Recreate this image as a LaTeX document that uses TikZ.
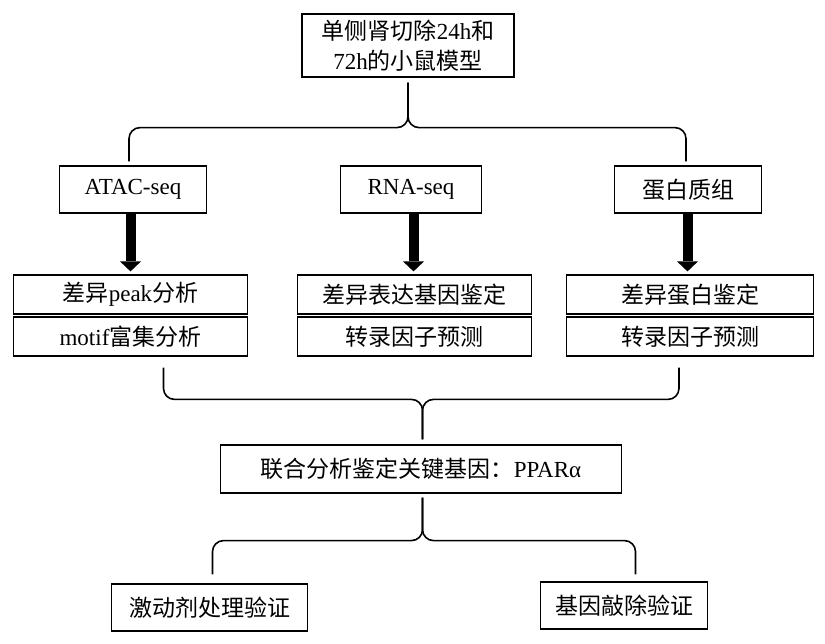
\documentclass[tikz,border=0pt]{standalone}
\usepackage{fontspec}
\setmainfont{Liberation Serif}
\newfontfamily\cjk{Noto Sans CJK SC}
\usetikzlibrary{arrows.meta}

\tikzset{
  box/.style={draw, line width=1.2pt, inner sep=0pt, minimum height=47pt,
    font=\fontsize{23}{30}\selectfont},
  row/.style={box, minimum width=234pt, minimum height=39pt},
  brace/.style={line width=1.6pt, rounded corners=11pt},
  fatarrow/.style={line width=10pt, -{Triangle[width=21pt,length=10pt,line width=0pt]}, shorten >=3pt}
}

\begin{document}
\begin{tikzpicture}[x=1pt,y=1pt]
\useasboundingbox (0,0) rectangle (825,-643);

\node[box,minimum width=212pt,minimum height=63pt,align=center] (model) at (408,-45.5)
  {{\cjk 单侧肾切除}24h{\cjk 和}\\72h{\cjk 的小鼠模型}};
\node[box,minimum width=141pt,below of=model,node distance=144pt,xshift=3pt] (rna) {RNA-seq};
\node[box,minimum width=147pt,left of=rna,node distance=278pt] (atac) {ATAC-seq};
\node[box,minimum width=147pt,right of=rna,node distance=277pt] (prot) {{\cjk 蛋白质组}};

% results of each omics
\node[row,below of=atac,node distance=105pt,xshift=-2.5pt] (peak) {{\cjk 差异}peak{\cjk 分析}};
\node[row,below of=peak,node distance=42pt] (motif) {motif{\cjk 富集分析}};
\node[row,below of=rna,node distance=105pt,xshift=3.5pt] (diffgene) {{\cjk 差异表达基因鉴定}};
\node[row,below of=diffgene,node distance=42pt] (tfrna) {{\cjk 转录因子预测}};
\node[row,minimum width=247pt,below of=prot,node distance=105pt,xshift=2pt] (diffprot) {{\cjk 差异蛋白鉴定}};
\node[row,minimum width=247pt,below of=diffprot,node distance=42pt] (tfprot) {{\cjk 转录因子预测}};

\node[box,minimum width=401pt,minimum height=48pt,below of=tfrna,node distance=132.5pt,xshift=6.5pt] (combo)
  {{\cjk 联合分析鉴定关键基因：}PPARα};
\node[box,minimum width=196pt,below of=combo,node distance=138.5pt,xshift=-211.5pt] (agonist) {{\cjk 激动剂处理验证}};
\node[box,minimum width=167pt,below of=combo,node distance=136.5pt,xshift=203pt] (knockout) {{\cjk 基因敲除验证}};

% braces
\coordinate (b1) at ([yshift=-50pt]model.south);
\draw[brace] ([yshift=4pt,xshift=-4pt]atac.north) |- (b1) -- ([yshift=-5pt]model.south);
\draw[brace] ([yshift=4pt,xshift=-2pt]prot.north) |- (b1) -- ([yshift=-5pt]model.south);

\coordinate (b2) at ([xshift=1.5pt,yshift=45pt]combo.north);
\draw[brace] ([xshift=33pt,yshift=-11pt]motif.south) |- (b2) -- ([xshift=1.5pt,yshift=5pt]combo.north);
\draw[brace] ([xshift=-11pt,yshift=-11pt]tfprot.south) |- (b2) -- ([xshift=1.5pt,yshift=5pt]combo.north);

\coordinate (b3) at ([xshift=1.5pt,yshift=-47pt]combo.south);
\draw[brace] ([xshift=3pt,yshift=9pt]agonist.north) |- (b3) -- ([xshift=1.5pt,yshift=-4pt]combo.south);
\draw[brace] ([xshift=11.5pt,yshift=7pt]knockout.north) |- (b3) -- ([xshift=1.5pt,yshift=-4pt]combo.south);

% arrows
\draw[fatarrow] (peak.north |- atac.south) -- (peak.north);
\draw[fatarrow] ([xshift=-1pt]diffgene.north |- rna.south) -- ([xshift=-1pt]diffgene.north);
\draw[fatarrow] ([xshift=-2.5pt]diffprot.north |- prot.south) -- ([xshift=-2.5pt]diffprot.north);
\end{tikzpicture}
\end{document}
